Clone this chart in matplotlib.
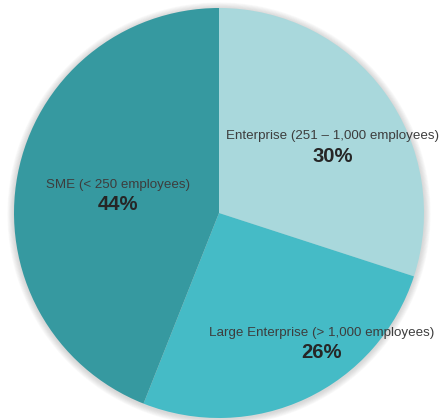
import matplotlib.pyplot as plt
from matplotlib.patches import Circle

plt.rcParams['font.family'] = ['Liberation Sans', 'DejaVu Sans']

# company size split
segments = ["Enterprise (251 – 1,000 employees)",
            "Large Enterprise (> 1,000 employees)",
            "SME (< 250 employees)"]
shares = [30, 26, 44]
colors = ['#a9d8dc', '#45bbc6', '#3699a0']

W, H = 443, 420
fig = plt.figure(figsize=(W / 100, H / 100), dpi=100)
ax = fig.add_axes([0, 0, 1, 1])

cx, cy, r = 219, H - 213, 205

# soft shadow round the rim
for k in range(8):
    ax.add_patch(Circle((cx, cy - 1), r + 1 + k * 0.8, color='#888888',
                        alpha=0.045, lw=0, zorder=0))

ax.pie(shares, colors=colors, startangle=90, counterclock=False,
       center=(cx, cy), radius=r, frame=True,
       wedgeprops=dict(linewidth=0, zorder=1))
ax.set_xlim(0, W)
ax.set_ylim(0, H)
ax.set_aspect('equal')
ax.axis('off')

# label spots (px from top-left)
spots = [(333, 136), (322, 333), (118, 185)]
for name, val, (x, y) in zip(segments, shares, spots):
    ax.text(x, H - y, name, ha='center', va='center', fontsize=9.6,
            color='#3d3d3d', zorder=3)
    ax.text(x, H - y - 20, f"{val}%", ha='center', va='center',
            fontsize=14.6, fontweight='bold', color='#262626', zorder=3)

fig.savefig('out.png', dpi=100)
